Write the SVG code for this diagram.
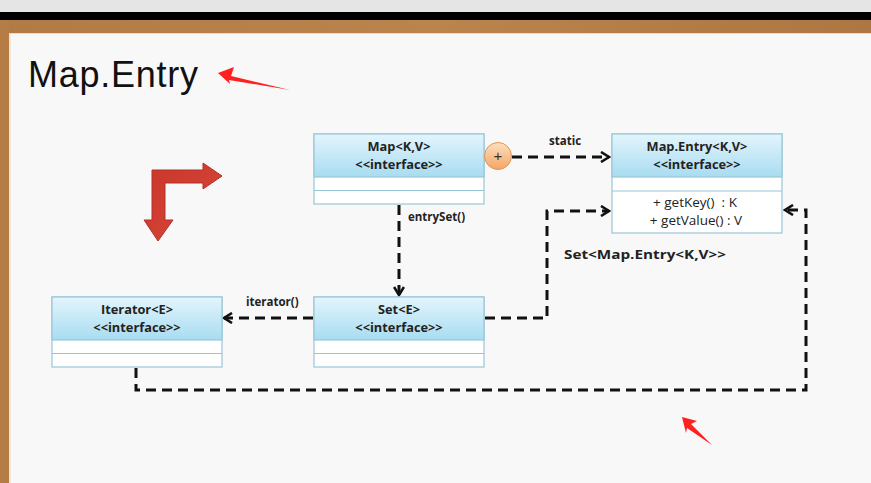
<svg xmlns="http://www.w3.org/2000/svg" width="871" height="483" viewBox="0 0 871 483">
<defs>
<linearGradient id="hdr" x1="0" y1="0" x2="0" y2="1">
<stop offset="0" stop-color="#e3f5fc"/>
<stop offset="1" stop-color="#a8dcf1"/>
</linearGradient>
<linearGradient id="plus" x1="0" y1="0" x2="0" y2="1">
<stop offset="0" stop-color="#fde0bf"/>
<stop offset="1" stop-color="#f4a564"/>
</linearGradient>
<linearGradient id="wood" x1="0" y1="0" x2="1" y2="0">
<stop offset="0" stop-color="#b27a45"/>
<stop offset="0.5" stop-color="#bb844d"/>
<stop offset="1" stop-color="#ad7642"/>
</linearGradient>
<linearGradient id="red" x1="0" y1="0" x2="1" y2="1">
<stop offset="0" stop-color="#c9362a"/>
<stop offset="1" stop-color="#d9473a"/>
</linearGradient>
<marker id="arr" viewBox="0 0 12 12" refX="10" refY="6" markerWidth="12" markerHeight="12" markerUnits="userSpaceOnUse" orient="auto">
<path d="M2,1 L10,6 L2,11" fill="none" stroke="#111" stroke-width="2.6"/>
</marker>
</defs>
<style>
.box{fill:#ffffff;stroke:#9ac6d8;stroke-width:1.2}
.hd{fill:url(#hdr);stroke:#9ac6d8;stroke-width:1.2}
.t{font-family:"Open Sans","Liberation Sans",sans-serif;font-size:12.8px;font-weight:bold;fill:#222;text-anchor:middle}
.m{font-family:"Open Sans","Liberation Sans",sans-serif;font-size:13.5px;fill:#222;text-anchor:middle;white-space:pre}
.lbl{font-family:"Open Sans","Liberation Sans",sans-serif;font-size:11.5px;font-weight:bold;fill:#222}
.c{fill:none;stroke:#111;stroke-width:3;stroke-dasharray:10 6}
</style>
<rect x="0" y="0" width="871" height="483" fill="#f8f8f8"/>
<rect x="0" y="0" width="871" height="12" fill="#e5e5e5"/>
<rect x="0" y="12" width="871" height="8" fill="#000"/>
<rect x="0" y="20" width="871" height="14" fill="url(#wood)"/>
<rect x="0" y="20" width="9" height="463" fill="#b57c45"/>
<rect x="9" y="33" width="862" height="1" fill="#f0d9c0"/>
<rect x="9" y="34" width="2" height="449" fill="#f0e6d8"/>
<text x="28" y="87" font-family="'Liberation Sans',Arial,sans-serif" font-size="36" fill="#111" textLength="170" lengthAdjust="spacing">Map.Entry</text>
<polygon points="218,73 234,67 231,76 290,90 229,80 230,84" fill="#ff2020"/>
<polygon points="682,417 697,421 691,424 712,445 687,428 686,433" fill="#ff2020"/>
<g id="icon">
<path d="M152,170 L203,170 L203,163 L222,176 L203,189 L203,183 L165,183 L165,220 L173,220 L158,241 L144,220 L152,220 Z" fill="url(#red)" stroke="#b5302a" stroke-width="1"/>
</g>
<g id="connectors">
<line class="c" x1="512" y1="157" x2="609" y2="157" marker-end="url(#arr)"/>
<line class="c" x1="399" y1="205" x2="399" y2="295" marker-end="url(#arr)"/>
<line class="c" x1="313" y1="318" x2="224" y2="318" marker-end="url(#arr)"/>
<polyline class="c" points="485,318 547,318 547,211 609,211" marker-end="url(#arr)"/>
<polyline class="c" points="136,368 136,390 806,390 806,210 785,210" marker-end="url(#arr)"/>
<text class="lbl" x="549" y="145">static</text>
<text class="lbl" x="408" y="221">entrySet()</text>
<text class="lbl" x="246" y="306">iterator()</text>
<text class="lbl" x="564" y="259" font-size="15" textLength="162" lengthAdjust="spacingAndGlyphs">Set&lt;Map.Entry&lt;K,V&gt;&gt;</text>
</g>
<g id="map">
<rect class="box" x="314" y="134" width="170" height="70"/>
<rect class="hd" x="314" y="134" width="170" height="43"/>
<line x1="314" y1="190.5" x2="484" y2="190.5" stroke="#9ac6d8" stroke-width="1.2"/>
<text class="t" x="399" y="151">Map&lt;K,V&gt;</text>
<text class="t" x="399" y="169">&lt;&lt;interface&gt;&gt;</text>
</g>
<g id="plusnode">
<circle cx="498" cy="156" r="13.5" fill="url(#plus)" stroke="#e0955a" stroke-width="1"/>
<text x="498" y="161" font-family="'Liberation Sans',sans-serif" font-size="15" fill="#333" text-anchor="middle">+</text>
</g>
<g id="mapentry">
<rect class="box" x="612" y="134" width="170" height="99"/>
<rect class="hd" x="612" y="134" width="170" height="43"/>
<line x1="612" y1="191" x2="782" y2="191" stroke="#9ac6d8" stroke-width="1.2"/>
<text class="t" x="697" y="151">Map.Entry&lt;K,V&gt;</text>
<text class="t" x="697" y="169">&lt;&lt;interface&gt;&gt;</text>
<text class="m" x="695" y="207" xml:space="preserve">+ getKey()  : K</text>
<text class="m" x="696" y="225">+ getValue() : V</text>
</g>
<g id="set">
<rect class="box" x="314" y="297" width="170" height="70"/>
<rect class="hd" x="314" y="297" width="170" height="43"/>
<line x1="314" y1="353.5" x2="484" y2="353.5" stroke="#9ac6d8" stroke-width="1.2"/>
<text class="t" x="399" y="314">Set&lt;E&gt;</text>
<text class="t" x="399" y="332">&lt;&lt;interface&gt;&gt;</text>
</g>
<g id="iterator">
<rect class="box" x="52" y="297" width="170" height="70"/>
<rect class="hd" x="52" y="297" width="170" height="43"/>
<line x1="52" y1="353.5" x2="222" y2="353.5" stroke="#9ac6d8" stroke-width="1.2"/>
<text class="t" x="137" y="314">Iterator&lt;E&gt;</text>
<text class="t" x="137" y="332">&lt;&lt;interface&gt;&gt;</text>
</g>
</svg>
